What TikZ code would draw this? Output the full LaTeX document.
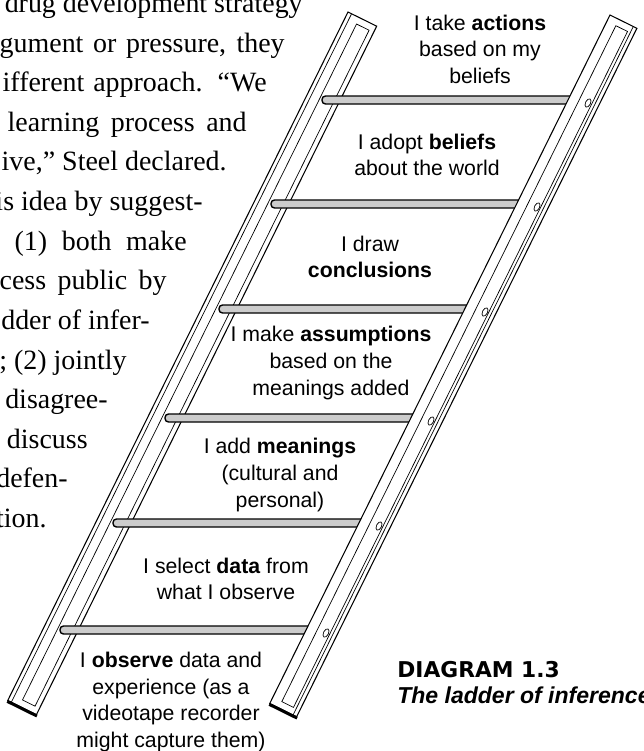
\documentclass[tikz,border=0pt]{standalone}
\usepackage{fontspec}
\setmainfont{Liberation Serif}
\setsansfont{Liberation Sans}
\newfontfamily\capfont{DejaVu Sans}
\begin{document}
\begin{tikzpicture}[x=0.02cm,y=0.02cm,
        rail/.style={semithick,fill=white},
        railbase/.style={line width=0.6mm},
        rungbar/.style={thick,fill=gray!40,rounded corners=0.7mm},
        bolt/.style={thin},
        step label/.style={font=\sffamily\fontsize{12.1}{15.1}\selectfont,align=center,inner sep=0},
        bodytext/.style={font=\fontsize{15.9}{19}\selectfont,anchor=base east,inner sep=0}]
        \useasboundingbox (0,0) rectangle (644,-751);
        %% Page text
        \node[bodytext] (t1) at (303,-12) {drug development strategy};
        \node[bodytext] (t2) at (285,-52) {\makebox[5.7cm][s]{gument or pressure, they}};
        \node[bodytext] (t3) at (267,-91) {\makebox[5.28cm][s]{ifferent approach. “We}};
        \node[bodytext] (t4) at (247,-131) {\makebox[4.78cm][s]{learning process and}};
        \node[bodytext] (t5) at (227,-170) {ive,” Steel declared.};
        \node[bodytext] (t6) at (203,-210) {his idea by suggest-};
        \node[bodytext] (t7) at (187,-250) {\makebox[3.44cm][s]{(1) both make}};
        \node[bodytext] (t8) at (167,-289) {\makebox[3.34cm][s]{cess public by}};
        \node[bodytext] (t9) at (150,-329) {dder of infer-};
        \node[bodytext] (t10) at (127,-369) {3); (2) jointly};
        \node[bodytext] (t11) at (108,-408) {disagree-};
        \node[bodytext] (t12) at (88,-448) {y discuss};
        \node[bodytext] (t13) at (68,-487) {defen-};
        \node[bodytext] (t14) at (47,-527) {tion.};
        %% Left rail
        \draw[rail] (348,-12) -- ++(243.7:768) -- ++(-26.3:32) -- ++(63.7:768) -- cycle;
        \draw (348,-12) ++(-26.3:4) -- ++(243.7:768);
        \draw (348,-12) ++(-26.3:13) ++(243.7:7) -- ++(243.7:754) -- ++(-26.3:14) -- ++(63.7:754) -- cycle;
        \draw[railbase] (348,-12) ++(243.7:769) -- ++(-26.3:33);
        %% Rungs
        \draw[rungbar] (322,-96) rectangle ++(252,-8);
        \draw[rungbar] (271,-200) rectangle ++(252,-8);
        \draw[rungbar] (219,-305) rectangle ++(252,-8);
        \draw[rungbar] (165,-414) rectangle ++(252,-8);
        \draw[rungbar] (113,-519) rectangle ++(252,-8);
        \draw[rungbar] (60,-626) rectangle ++(252,-8);
        %% Right rail
        \draw[rail] (610,-15) -- ++(243.7:768) -- ++(-26.3:30) -- ++(63.7:768) -- cycle;
        \draw (610,-15) ++(-26.3:10) ++(243.7:7) -- ++(243.7:754) -- ++(-26.3:13) -- ++(63.7:754) -- cycle;
        \draw (610,-15) ++(-26.3:26) -- ++(243.7:768);
        \draw[railbase] (610,-15) ++(243.7:769) -- ++(-26.3:31);
        %% Bolts
        \draw[bolt] (588,-103) ellipse [x radius=2.5,y radius=4.5,rotate=-26.3];
        \draw[bolt] (537,-207) ellipse [x radius=2.5,y radius=4.5,rotate=-26.3];
        \draw[bolt] (485,-312) ellipse [x radius=2.5,y radius=4.5,rotate=-26.3];
        \draw[bolt] (431,-421) ellipse [x radius=2.5,y radius=4.5,rotate=-26.3];
        \draw[bolt] (379,-526) ellipse [x radius=2.5,y radius=4.5,rotate=-26.3];
        \draw[bolt] (326,-633) ellipse [x radius=2.5,y radius=4.5,rotate=-26.3];
        %% Steps
        \node[step label] (actions) at (480,-49) {I take \textbf{actions}\\based on my\\beliefs};
        \node[step label] (beliefs) at (427,-155) {I adopt \textbf{beliefs}\\about the world};
        \node[step label] (conclusions) at (370,-257) {I draw\\\textbf{conclusions}};
        \node[step label] (assumptions) at (331,-363) {I make \textbf{assumptions}\\based on the\\meanings added};
        \node[step label] (meanings) at (280,-475) {I add \textbf{meanings}\\(cultural and\\personal)};
        \node[step label] (data) at (226,-579) {I select \textbf{data} from\\what I observe};
        \node[step label] (observe) at (171,-702) {I \textbf{observe} data and\\experience (as a\\videotape recorder\\might capture them)};
        %% Caption
        \node[anchor=base west,inner sep=0,font=\capfont\bfseries\fontsize{12.4}{14}\selectfont] (diagram) at (397,-677) {DIAGRAM 1.3};
        \node[anchor=base west,inner sep=0,font=\sffamily\bfseries\itshape\fontsize{13.1}{15}\selectfont] (title) at (397,-703) {The ladder of inference};
\end{tikzpicture}
\end{document}
